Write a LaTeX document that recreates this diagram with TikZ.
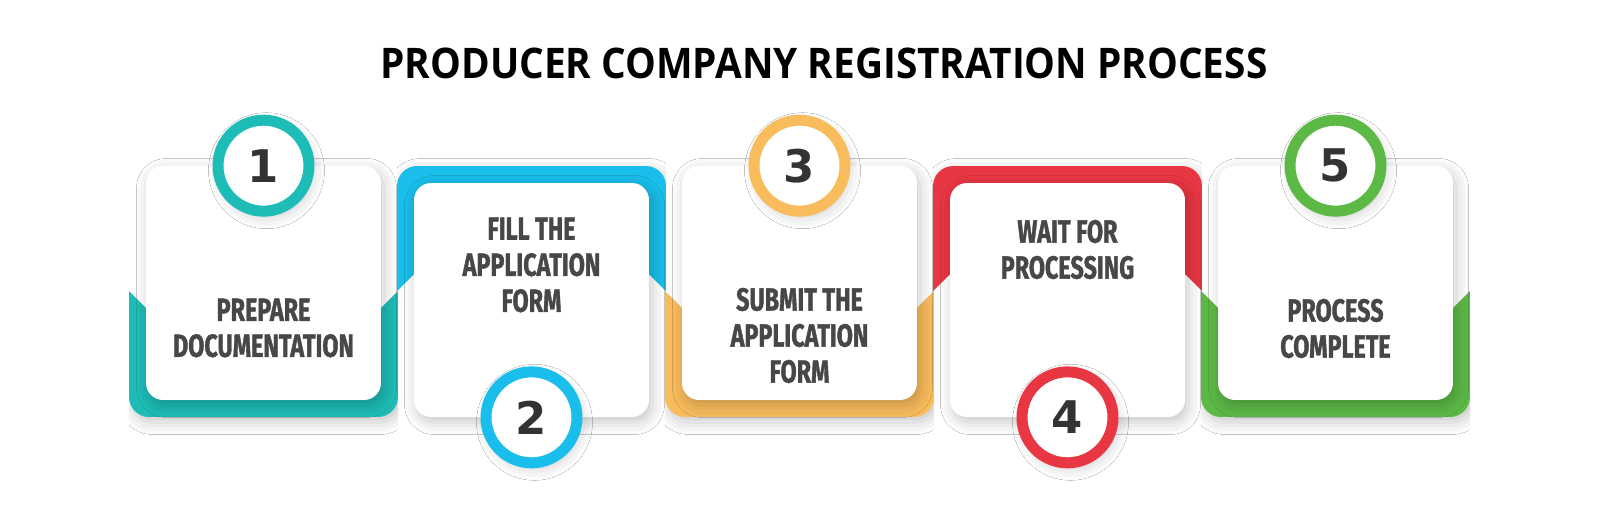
\documentclass[tikz,border=0pt]{standalone}
\usepackage{fontspec}
\usetikzlibrary{shadows.blur}
\newfontfamily\titlefont[FakeStretch=0.92]{Open Sans}
\newfontfamily\numfont{DejaVu Sans}
\newfontfamily\cardfont[FakeStretch=0.73,FakeBold=1.2]{Fira Sans}
\definecolor{tealc}{HTML}{1EBCB6}
\definecolor{bluec}{HTML}{19BEEA}
\definecolor{orangec}{HTML}{F9BC5C}
\definecolor{redc}{HTML}{E83643}
\definecolor{greenc}{HTML}{5CB946}
\definecolor{textc}{HTML}{474747}
\definecolor{numc}{HTML}{333333}

\begin{document}
\begin{tikzpicture}[x=0.02cm, y=-0.02cm,
    softshadow/.style={blur shadow={shadow xshift=0.06cm, shadow yshift=-0.1cm, shadow blur radius=0.25cm, shadow opacity=22}},
    ribbon/.style={rectangle, rounded corners=0.4cm, minimum width=5.38cm, minimum height=5.02cm, inner sep=0, fill=#1, softshadow},
    card/.style={rectangle, rounded corners=0.34cm, minimum width=4.7cm, minimum height=4.68cm, inner sep=0, fill=white, softshadow},
    badge/.style={circle, minimum size=1.82cm, inner sep=0, fill=white, draw=#1, line width=0.22cm, text=numc, font=\numfont\bfseries\fontsize{25.6}{26}\selectfont, softshadow},
    steptext/.style={align=center, inner sep=0, text=textc, font=\cardfont\bfseries\fontsize{18.2}{20.5}\selectfont}]
      \fill[white] (0,0) rectangle (1600,511);
      \useasboundingbox (0,0) rectangle (1600,511);

      \node[font=\titlefont\bfseries\fontsize{24}{24}\selectfont] (title) at (824,63) {PRODUCER COMPANY REGISTRATION PROCESS};

      % coloured frames, cut at 45 degrees where they meet
      \begin{scope}
        \clip (129,291) -- (179,341) -- (348,341) -- (398,291) -- (398,450) -- (129,450) -- cycle;
        \node[ribbon=tealc] (rib1) at (263.5,291.5) {};
      \end{scope}
      \begin{scope}
        \clip (397,291) -- (447,241) -- (616,241) -- (666,291) -- (666,140) -- (397,140) -- cycle;
        \node[ribbon=bluec] (rib2) at (531.5,291.5) {};
      \end{scope}
      \begin{scope}
        \clip (665,291) -- (715,341) -- (884,341) -- (934,291) -- (934,450) -- (665,450) -- cycle;
        \node[ribbon=orangec] (rib3) at (799.5,291.5) {};
      \end{scope}
      \begin{scope}
        \clip (933,291) -- (983,241) -- (1152,241) -- (1202,291) -- (1202,140) -- (933,140) -- cycle;
        \node[ribbon=redc] (rib4) at (1067.5,291.5) {};
      \end{scope}
      \begin{scope}
        \clip (1201,291) -- (1251,341) -- (1420,341) -- (1470,291) -- (1470,450) -- (1201,450) -- cycle;
        \node[ribbon=greenc] (rib5) at (1335.5,291.5) {};
      \end{scope}

      % white cards
      \node[card] (card1) at (263.5,283) {};
      \node[card] (card2) at (531.5,300) {};
      \node[card] (card3) at (799.5,283) {};
      \node[card] (card4) at (1067.5,300) {};
      \node[card] (card5) at (1335.5,283) {};

      % step texts
      \node[steptext] (txt1) at (263.5,328) {PREPARE\\DOCUMENTATION};
      \node[steptext] (txt2) at (531.5,265) {FILL THE\\APPLICATION\\FORM};
      \node[steptext] (txt3) at (799.5,335.5) {SUBMIT THE\\APPLICATION\\FORM};
      \node[steptext] (txt4) at (1067.5,249.5) {WAIT FOR\\PROCESSING};
      \node[steptext] (txt5) at (1335.5,328.5) {PROCESS\\COMPLETE};

      % numbered circles
      \node[badge=tealc] (num1) at (card1.north) {1};
      \node[badge=bluec] (num2) at (card2.south) {2};
      \node[badge=orangec] (num3) at (card3.north) {3};
      \node[badge=redc] (num4) at (card4.south) {4};
      \node[badge=greenc] (num5) at (card5.north) {5};
    \end{tikzpicture}
\end{document}
